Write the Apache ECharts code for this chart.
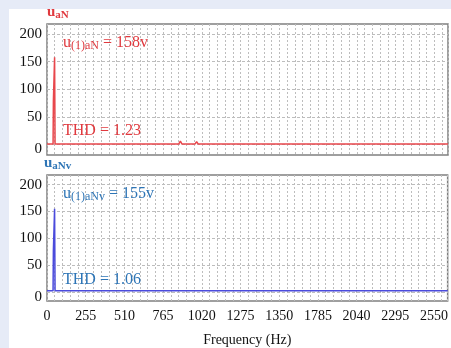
<!DOCTYPE html>
<html>
<head>
<meta charset="utf-8">
<script src="https://cdn.jsdelivr.net/npm/echarts@6.0.0/dist/echarts.min.js"></script>
<style>
html,body{margin:0;padding:0;background:#e6ebf7;}
#panel{position:absolute;left:9px;top:9px;width:442px;height:339px;background:#fff;}
#chart{position:absolute;left:0;top:0;width:451px;height:348px;}
</style>
</head>
<body>
<div id="panel"></div>
<div id="chart"></div>
<script>
// ---- data ----
const xTickLabels = ['0','255','510','765','1020','1275','1350','1785','2040','2295','2550'];
const yTickValues = [0, 50, 100, 150, 200];

const topFreq = [0, 40, 42, 47, 50, 53, 345, 355, 365, 560, 570, 580, 655, 665, 675, 868, 878, 888, 975, 985, 995, 1295, 1305, 1315, 1560, 1570, 1580, 1705, 1715, 1725, 2640];
const topAmp  = [1, 1, 78, 78, 158, 1, 1, 3, 1, 1, 4, 1, 1, 2, 1, 1, 6, 1, 1, 5, 1, 1, 2, 1, 1, 3, 1, 1, 2, 1, 1];

const botFreq = [0, 40, 42, 47, 50, 53, 250, 260, 270, 350, 360, 370, 660, 670, 680, 865, 875, 885, 1590, 1600, 1610, 1800, 1810, 1820, 1900, 1910, 1920, 2640];
const botAmp  = [2, 2, 76, 76, 155, 2, 2, 4, 2, 2, 5, 2, 2, 5, 2, 2, 4, 2, 2, 4, 2, 2, 5, 2, 2, 3, 2, 2];

const topTitle = {u: 'u', sub: 'aN'};
const botTitle = {u: 'u', sub: 'aNv'};
const topFund = 158, botFund = 155;
const topTHD = '1.23', botTHD = '1.06';

// ---- styles ----
const RED_TXT = '#e0393e', RED_LINE = '#e8474c';
const BLUE_TXT = '#2e75b6', BLUE_LINE = '#4b4bdc';
const SERIF = '"Liberation Serif", "DejaVu Serif", serif';
const GRID_C = '#bdbdbd';

const pairs = (f, a) => f.map((x, i) => [x, a[i]]);

function xAxis(gi, showLabels) {
  return {
    type: 'value', gridIndex: gi, min: 0, max: 2640, interval: 255,
    axisLine: {show: false}, axisTick: {show: false},
    axisLabel: {
      show: showLabels, fontFamily: SERIF, fontSize: 14, color: '#111', margin: 8,
      formatter: v => { const k = Math.round(v / 255); return (Math.abs(v - k*255) < 1e-6 && xTickLabels[k] !== undefined) ? xTickLabels[k] : ''; }
    },
    splitLine: {show: true, lineStyle: {color: GRID_C, type: [2, 2], width: 1}},
    minorTick: {show: false, splitNumber: 5},
    minorSplitLine: {show: true, lineStyle: {color: GRID_C, type: [2, 2], width: 1}},
    name: showLabels ? 'Frequency (Hz)' : '', nameLocation: 'middle', nameGap: 32,
    nameTextStyle: {fontFamily: SERIF, fontSize: 14, color: '#111'}
  };
}
function yAxis(gi, min, max) {
  return {
    type: 'value', gridIndex: gi, min: min, max: max,
    axisLine: {show: false},
    axisTick: {show: false, customValues: yTickValues},
    axisLabel: {
      customValues: yTickValues, fontFamily: SERIF, fontSize: 15, color: '#111', margin: 5,
      formatter: v => v === 0 ? '{z|0}' : String(v),
      rich: {z: {fontFamily: SERIF, fontSize: 15, color: '#111', padding: [10, 0, 0, 0]}}
    },
    splitLine: {show: true, lineStyle: {color: GRID_C, type: [3, 2], width: 1}}
  };
}

function richLabel(color) {
  return {
    u: {fontFamily: SERIF, fontSize: 16, fill: color},
    s: {fontFamily: SERIF, fontSize: 12, fill: color, padding: [6, 0, 0, 0]},
    t: {fontFamily: SERIF, fontSize: 16, fill: color}
  };
}
function titleLabel(color) {
  return {
    u: {fontFamily: SERIF, fontSize: 15, fontWeight: 'bold', fill: color},
    s: {fontFamily: SERIF, fontSize: 11, fontWeight: 'bold', fill: color, padding: [5, 0, 0, 0]}
  };
}

const chart = echarts.init(document.getElementById('chart'), null, {renderer: 'canvas'});
chart.setOption({
  animation: false,
  backgroundColor: 'transparent',
  grid: [
    {left: 47, top: 24, width: 401, height: 131, show: true, borderColor: '#808080', borderWidth: 1.5, backgroundColor: '#fff'},
    {left: 47, top: 175, width: 401, height: 127, show: true, borderColor: '#808080', borderWidth: 1.5, backgroundColor: '#fff'}
  ],
  xAxis: [xAxis(0, false), xAxis(1, true)],
  yAxis: [yAxis(0, -19, 218), yAxis(1, -17, 218)],
  series: [
    {type: 'line', xAxisIndex: 0, yAxisIndex: 0, data: pairs(topFreq, topAmp), symbol: 'none',
     lineStyle: {color: RED_LINE, width: 1.5}, z: 5},
    {type: 'line', xAxisIndex: 1, yAxisIndex: 1, data: pairs(botFreq, botAmp), symbol: 'none',
     lineStyle: {color: BLUE_LINE, width: 1.5}, z: 5}
  ],
  graphic: [
    {type: 'text', left: 47, top: 5, z: 10, style: {text: '{u|' + topTitle.u + '}{s|' + topTitle.sub + '}', rich: titleLabel(RED_TXT)}},
    {type: 'text', left: 44, top: 156, z: 10, style: {text: '{u|' + botTitle.u + '}{s|' + botTitle.sub + '}', rich: titleLabel(BLUE_TXT)}},
    {type: 'text', left: 63, top: 35, z: 10, style: {text: '{u|u}{s|(1)aN}{t| = ' + topFund + 'v}', rich: richLabel(RED_TXT)}},
    {type: 'text', left: 63, top: 123, z: 10, style: {text: 'THD = ' + topTHD, fontFamily: SERIF, fontSize: 16, fill: RED_TXT}},
    {type: 'text', left: 63, top: 186, z: 10, style: {text: '{u|u}{s|(1)aNv}{t| = ' + botFund + 'v}', rich: richLabel(BLUE_TXT)}},
    {type: 'text', left: 63, top: 272, z: 10, style: {text: 'THD = ' + botTHD, fontFamily: SERIF, fontSize: 16, fill: BLUE_TXT}}
  ]
});
</script>
</body>
</html>
